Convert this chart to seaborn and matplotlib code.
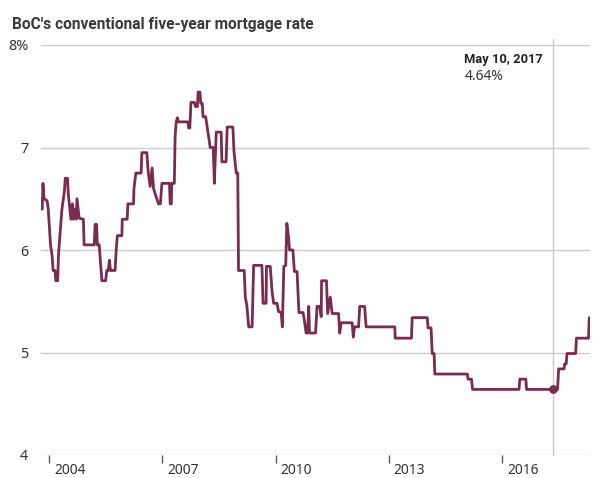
import matplotlib
matplotlib.use("Agg")
import matplotlib.pyplot as plt
from matplotlib.transforms import ScaledTranslation
import seaborn as sns
import pandas as pd

# ---- data (decimal year, rate %) ----
years = [
    2003.78, 2003.82, 2003.84, 2003.87, 2003.95, 2003.98, 2004.04, 2004.08, 2004.11, 2004.16,
    2004.18, 2004.23, 2004.25, 2004.29, 2004.34, 2004.38, 2004.41, 2004.43, 2004.49, 2004.51,
    2004.58, 2004.62, 2004.64, 2004.68, 2004.72, 2004.74, 2004.80, 2004.91, 2004.93, 2005.20,
    2005.22, 2005.26, 2005.28, 2005.33, 2005.40, 2005.50, 2005.53, 2005.57, 2005.60, 2005.63,
    2005.75, 2005.78, 2005.81, 2005.93, 2005.94, 2006.07, 2006.09, 2006.24, 2006.25, 2006.30,
    2006.44, 2006.46, 2006.59, 2006.63, 2006.68, 2006.73, 2006.77, 2006.81, 2006.90, 2006.95,
    2006.99, 2007.19, 2007.21, 2007.24, 2007.25, 2007.32, 2007.34, 2007.37, 2007.40, 2007.43,
    2007.68, 2007.70, 2007.73, 2007.76, 2007.85, 2007.88, 2007.93, 2007.95, 2008.00, 2008.02,
    2008.06, 2008.08, 2008.15, 2008.19, 2008.27, 2008.35, 2008.38, 2008.43, 2008.56, 2008.58,
    2008.69, 2008.72, 2008.87, 2008.90, 2008.96, 2009.00, 2009.02, 2009.17, 2009.20, 2009.24,
    2009.29, 2009.38, 2009.42, 2009.64, 2009.67, 2009.75, 2009.76, 2009.86, 2009.91, 2009.95,
    2010.04, 2010.08, 2010.15, 2010.18, 2010.22, 2010.27, 2010.30, 2010.35, 2010.37, 2010.46,
    2010.50, 2010.57, 2010.62, 2010.73, 2010.77, 2010.81, 2010.85, 2010.88, 2010.90, 2011.06,
    2011.10, 2011.17, 2011.21, 2011.22, 2011.35, 2011.38, 2011.45, 2011.50, 2011.67, 2011.70,
    2011.74, 2012.03, 2012.06, 2012.09, 2012.20, 2012.23, 2012.36, 2012.40, 2013.16, 2013.17,
    2013.60, 2013.62, 2014.02, 2014.04, 2014.12, 2014.15, 2014.20, 2014.22, 2015.08, 2015.10,
    2015.19, 2015.22, 2016.45, 2016.47, 2016.63, 2016.65, 2017.47, 2017.50, 2017.64, 2017.66,
    2017.70, 2017.72, 2017.95, 2017.97, 2018.29, 2018.31,
]
rates = [
    6.40, 6.40, 6.65, 6.50, 6.48, 6.40, 6.05, 5.95, 5.80, 5.80,
    5.70, 5.70, 5.95, 6.14, 6.39, 6.50, 6.58, 6.70, 6.70, 6.55,
    6.30, 6.45, 6.30, 6.40, 6.30, 6.50, 6.31, 6.30, 6.05, 6.05,
    6.25, 6.25, 6.05, 6.05, 5.70, 5.70, 5.80, 5.80, 5.90, 5.80,
    5.80, 6.00, 6.14, 6.14, 6.30, 6.30, 6.45, 6.45, 6.60, 6.75,
    6.75, 6.95, 6.95, 6.75, 6.62, 6.80, 6.60, 6.55, 6.45, 6.45,
    6.65, 6.65, 6.45, 6.45, 6.65, 6.65, 7.10, 7.25, 7.29, 7.25,
    7.25, 7.19, 7.19, 7.44, 7.44, 7.40, 7.40, 7.54, 7.54, 7.43,
    7.43, 7.30, 7.30, 7.20, 7.00, 7.00, 6.65, 7.15, 7.15, 6.86,
    6.86, 7.20, 7.20, 6.96, 6.75, 6.75, 5.80, 5.80, 5.54, 5.46,
    5.25, 5.25, 5.85, 5.85, 5.48, 5.48, 5.84, 5.84, 5.59, 5.48,
    5.48, 5.40, 5.39, 5.25, 5.84, 5.85, 6.26, 6.11, 6.00, 6.00,
    5.79, 5.79, 5.39, 5.39, 5.30, 5.19, 5.19, 5.45, 5.19, 5.19,
    5.45, 5.45, 5.35, 5.70, 5.70, 5.38, 5.54, 5.38, 5.38, 5.19,
    5.29, 5.29, 5.15, 5.25, 5.25, 5.45, 5.45, 5.25, 5.25, 5.14,
    5.14, 5.34, 5.34, 5.24, 5.24, 4.99, 4.99, 4.79, 4.79, 4.74,
    4.74, 4.64, 4.64, 4.74, 4.74, 4.64, 4.64, 4.84, 4.84, 4.89,
    4.89, 4.99, 4.99, 5.14, 5.14, 5.34,
]

tick_years = [2004, 2007, 2010, 2013, 2016]
tick_labels = ["2004", "2007", "2010", "2013", "2016"]
y_ticks = [4, 5, 6, 7, 8]
y_labels = ["4", "5", "6", "7", "8%"]

event_year = 2017.355
event_rate = 4.64
event_date_label = "May 10, 2017"
event_value_label = "4.64%"
title = "BoC's conventional five-year mortgage rate"

LINE = "#7a2b50"
GRID = "#cccccc"
TEXT = "#333333"

sns.set_theme(style="white")
plt.rcParams["font.family"] = ["Noto Sans", "DejaVu Sans"]

df = pd.DataFrame({"year": years, "rate": rates})

fig = plt.figure(figsize=(6.05, 4.78), dpi=100)
W, H = 605, 478
left, right, top, bottom = 40.7, 590, 45, 455
ax = fig.add_axes([left / W, 1 - bottom / H, (right - left) / W, (bottom - top) / H])

sns.lineplot(data=df, x="year", y="rate", estimator=None, sort=False,
             color=LINE, linewidth=2.0, ax=ax, zorder=3)

ax.set_xlim(2003.78, 2018.33)
ax.set_ylim(4, 8)
for s in ax.spines.values():
    s.set_visible(False)

ax.set_yticks(y_ticks)
ax.set_yticklabels(y_labels)
ax.grid(axis="y", color=GRID, linewidth=1.0, zorder=0)
ax.grid(axis="x", visible=False)
ax.tick_params(axis="y", left=False, length=0, pad=9, labelsize=10.3, labelcolor=TEXT)

ax.set_xticks(tick_years)
ax.set_xticklabels(tick_labels)
ax.tick_params(axis="x", bottom=True, length=6, width=1, color="#555555", direction="out",
               pad=0, labelsize=10, labelcolor=TEXT)
offset = ScaledTranslation(5 / 100, 0, fig.dpi_scale_trans)
for lab in ax.get_xticklabels():
    lab.set_horizontalalignment("left")
    lab.set_transform(lab.get_transform() + offset)

ax.set_xlabel("")
ax.set_ylabel("")

# event marker line and dot
ax.plot([event_year, event_year], [4, 8.06], color="#c8c8c8", lw=1.0,
        zorder=2, clip_on=False)
ax.scatter([event_year], [event_rate], s=28, color=LINE, zorder=4)

ax.annotate(event_date_label, xy=(event_year, 8), xytext=(-89, -15),
            textcoords="offset pixels", ha="left", va="center",
            fontsize=9.3, fontweight="bold", color="#222222",
            family=["Roboto", "DejaVu Sans"])
ax.annotate(event_value_label, xy=(event_year, 8), xytext=(-88, -31),
            textcoords="offset pixels", ha="left", va="center",
            fontsize=10, color=TEXT)

fig.text(12 / W, 1 - 25 / H, title, ha="left", va="center",
         fontsize=11.2, fontweight="bold", color="#3a3a3a",
         family=["Roboto", "DejaVu Sans"])

fig.savefig("out.png", dpi=100)
